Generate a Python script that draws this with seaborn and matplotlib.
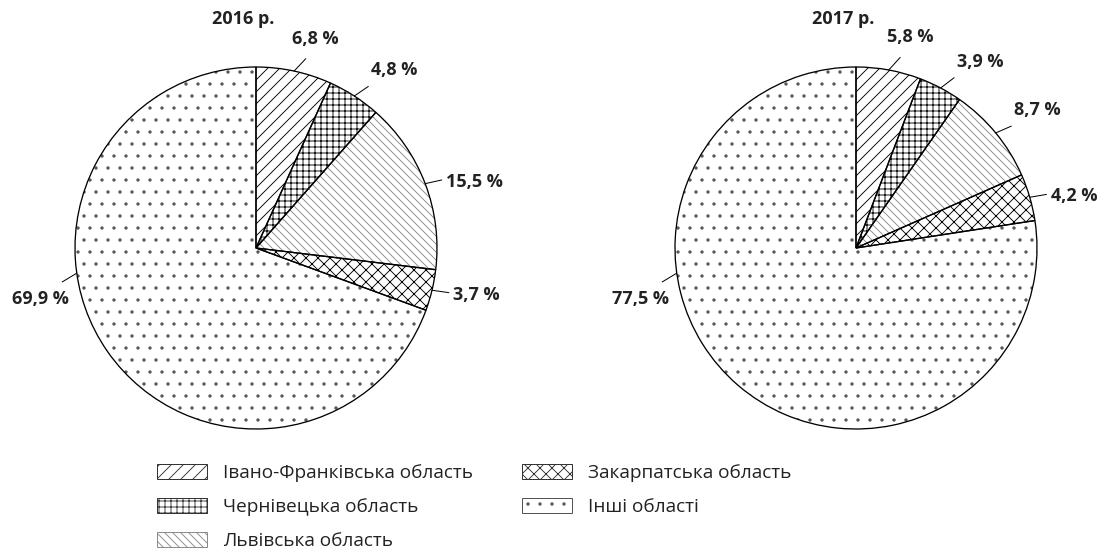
import numpy as np
import matplotlib.pyplot as plt
import seaborn as sns
from matplotlib.patches import Patch

# data
regions = ['Івано-Франківська область', 'Чернівецька область', 'Львівська область',
           'Закарпатська область', 'Інші області']
share_2016 = [6.8, 4.8, 15.5, 3.7, 69.9]
share_2017 = [5.8, 3.9, 8.7, 4.2, 77.5]
years = ['2016 р.', '2017 р.']

# styles
hatches = ['//', '++', '\\\\\\', 'xx', '.']
hatch_colors = ['black', 'black', '#8a8a8a', 'black', '#555555']
other_label_angle = 188   # label of the big "other" slice sits on the left
other_leader_angle = 211

sns.set_theme(style='white')
plt.rcParams['font.family'] = ['Open Sans', 'DejaVu Sans']
plt.rcParams['hatch.linewidth'] = 0.9

DPI = 72
W, H = 1105, 557
fig = plt.figure(figsize=(W / DPI, H / DPI), dpi=DPI)
fig.patch.set_facecolor('white')

R = 181  # pie radius in px
LIM = 1.4
LEADER = 17 / R


def pct(v):
    return f'{v:.1f}'.replace('.', ',') + ' %'


def draw_pie(cx, cy, values, title):
    side = 2 * LIM * R
    ax = fig.add_axes([(cx - side / 2) / W, (H - cy - side / 2) / H, side / W, side / H])
    wedges, _ = ax.pie(values, startangle=90, counterclock=False, radius=1,
                       wedgeprops=dict(facecolor='white', linewidth=0))
    for w, h, c in zip(wedges, hatches, hatch_colors):
        w.set_hatch(h)
        w.set_edgecolor(c)
    ax.pie(values, startangle=90, counterclock=False, radius=1,
           wedgeprops=dict(facecolor='none', edgecolor='black', linewidth=1.3))
    ax.set_xlim(-LIM, LIM)
    ax.set_ylim(-LIM, LIM)
    ax.set_aspect('equal')
    ax.axis('off')

    for i, (w, v) in enumerate(zip(wedges, values)):
        a = (w.theta1 + w.theta2) / 2
        if i == len(values) - 1:
            a = other_label_angle
            d = other_leader_angle
        else:
            d = a * 0.6  # leaders lean towards horizontal
        x0, y0 = np.cos(np.deg2rad(a)), np.sin(np.deg2rad(a))
        x1 = x0 + LEADER * np.cos(np.deg2rad(d))
        y1 = y0 + LEADER * np.sin(np.deg2rad(d))
        ax.plot([x0, x1], [y0, y1], color='black', lw=1, clip_on=False)
        c = (90 - a) % 360
        if c < 20:
            ha, va, off = 'center', 'bottom', (10, 11)
        elif c < 60:
            ha, va, off = 'left', 'bottom', (3, 7)
        elif c < 180:
            ha, va, off = 'left', 'center', (4, -2)
        else:
            ha, va, off = 'right', 'top', (7, -8)
        ax.annotate(pct(v), xy=(x1, y1), xytext=off, textcoords='offset points',
                    ha=ha, va=va, fontsize=18, fontweight='bold', color='#222222',
                    annotation_clip=False)
    ax.text(-12.5 / R, 229.5 / R, title, ha='center', va='center', fontsize=18,
            fontweight='bold', color='#222222')


draw_pie(256, 248, share_2016, years[0])
draw_pie(856, 248, share_2017, years[1])

handles = [Patch(facecolor='white', edgecolor=c if c != 'black' else '#333333',
                 hatch=h, linewidth=1) for h, c in zip(hatches, hatch_colors)]
leg = fig.legend(handles, regions, loc='upper left', bbox_to_anchor=(157 / W, 1 - 464 / H),
                 ncol=2, frameon=False, fontsize=19, handlelength=2.63, handleheight=0.84,
                 handletextpad=0.84, columnspacing=2.6, labelspacing=0.84, borderpad=0,
                 borderaxespad=0)
for t in leg.get_texts():
    t.set_color('#222222')

fig.savefig('out.png', dpi=DPI, facecolor='white')
